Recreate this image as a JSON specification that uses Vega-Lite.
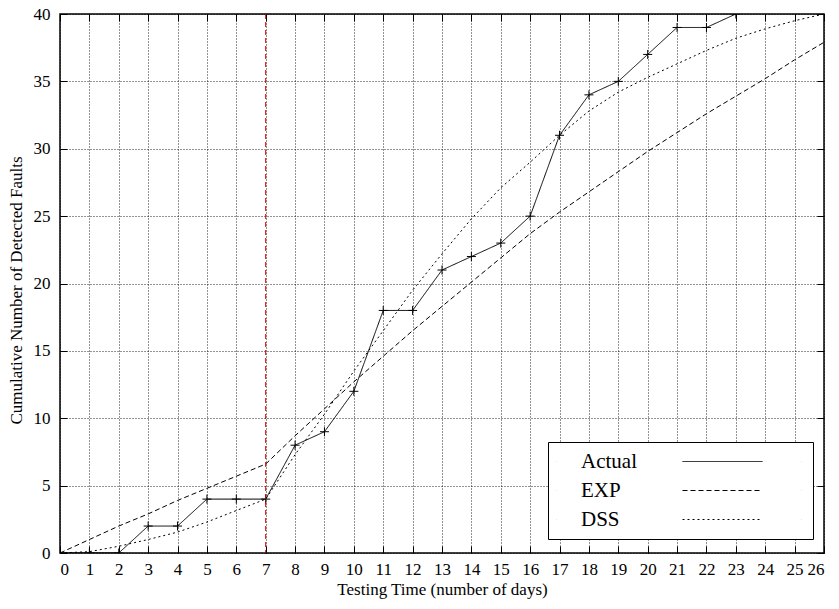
{
  "$schema": "https://vega.github.io/schema/vega-lite/v6.json",
  "width": 764,
  "height": 539,
  "autosize": {"type": "none"},
  "padding": {"left": 60, "top": 14, "right": 15, "bottom": 56},
  "background": "white",
  "config": {
    "font": "Liberation Serif",
    "view": {"stroke": "#000", "strokeWidth": 1.5},
    "axis": {
      "domain": false,
      "grid": true,
      "gridColor": "#000",
      "gridDash": [1, 2],
      "gridWidth": 1,
      "gridOpacity": 0.85,
      "ticks": true,
      "tickColor": "#000",
      "tickSize": -7,
      "tickWidth": 1,
      "labelFont": "Liberation Serif",
      "labelFontSize": 17,
      "labelColor": "#000",
      "titleFont": "Liberation Serif",
      "titleFontSize": 17,
      "titleFontWeight": "normal",
      "titleColor": "#000"
    }
  },
  "datasets": {
    "curves": [
      {"day": 0, "series": "Actual", "value": 0},
      {"day": 1, "series": "Actual", "value": 0},
      {"day": 2, "series": "Actual", "value": 0},
      {"day": 3, "series": "Actual", "value": 2},
      {"day": 4, "series": "Actual", "value": 2},
      {"day": 5, "series": "Actual", "value": 4},
      {"day": 6, "series": "Actual", "value": 4},
      {"day": 7, "series": "Actual", "value": 4},
      {"day": 8, "series": "Actual", "value": 8},
      {"day": 9, "series": "Actual", "value": 9},
      {"day": 10, "series": "Actual", "value": 12},
      {"day": 11, "series": "Actual", "value": 18},
      {"day": 12, "series": "Actual", "value": 18},
      {"day": 13, "series": "Actual", "value": 21},
      {"day": 14, "series": "Actual", "value": 22},
      {"day": 15, "series": "Actual", "value": 23},
      {"day": 16, "series": "Actual", "value": 25},
      {"day": 17, "series": "Actual", "value": 31},
      {"day": 18, "series": "Actual", "value": 34},
      {"day": 19, "series": "Actual", "value": 35},
      {"day": 20, "series": "Actual", "value": 37},
      {"day": 21, "series": "Actual", "value": 39},
      {"day": 22, "series": "Actual", "value": 39},
      {"day": 23, "series": "Actual", "value": 40},
      {"day": 0, "series": "EXP", "value": 0},
      {"day": 1, "series": "EXP", "value": 1.0},
      {"day": 2, "series": "EXP", "value": 2.0},
      {"day": 3, "series": "EXP", "value": 2.9},
      {"day": 4, "series": "EXP", "value": 3.9},
      {"day": 5, "series": "EXP", "value": 4.8},
      {"day": 6, "series": "EXP", "value": 5.7},
      {"day": 7, "series": "EXP", "value": 6.6},
      {"day": 8, "series": "EXP", "value": 8.7},
      {"day": 9, "series": "EXP", "value": 10.7},
      {"day": 10, "series": "EXP", "value": 12.7},
      {"day": 11, "series": "EXP", "value": 14.6},
      {"day": 12, "series": "EXP", "value": 16.5},
      {"day": 13, "series": "EXP", "value": 18.3},
      {"day": 14, "series": "EXP", "value": 20.1},
      {"day": 15, "series": "EXP", "value": 21.9},
      {"day": 16, "series": "EXP", "value": 23.7},
      {"day": 17, "series": "EXP", "value": 25.3},
      {"day": 18, "series": "EXP", "value": 26.8},
      {"day": 19, "series": "EXP", "value": 28.3},
      {"day": 20, "series": "EXP", "value": 29.8},
      {"day": 21, "series": "EXP", "value": 31.2},
      {"day": 22, "series": "EXP", "value": 32.6},
      {"day": 23, "series": "EXP", "value": 33.9},
      {"day": 24, "series": "EXP", "value": 35.2},
      {"day": 25, "series": "EXP", "value": 36.6},
      {"day": 26, "series": "EXP", "value": 37.9},
      {"day": 0, "series": "DSS", "value": 0},
      {"day": 1, "series": "DSS", "value": 0.1},
      {"day": 2, "series": "DSS", "value": 0.5},
      {"day": 3, "series": "DSS", "value": 1.0},
      {"day": 4, "series": "DSS", "value": 1.55},
      {"day": 5, "series": "DSS", "value": 2.3},
      {"day": 6, "series": "DSS", "value": 3.15},
      {"day": 7, "series": "DSS", "value": 4.0},
      {"day": 8, "series": "DSS", "value": 7.3},
      {"day": 9, "series": "DSS", "value": 10.3},
      {"day": 10, "series": "DSS", "value": 13.5},
      {"day": 11, "series": "DSS", "value": 16.5},
      {"day": 12, "series": "DSS", "value": 19.5},
      {"day": 13, "series": "DSS", "value": 22.2},
      {"day": 14, "series": "DSS", "value": 24.8},
      {"day": 15, "series": "DSS", "value": 27.1},
      {"day": 16, "series": "DSS", "value": 29.0},
      {"day": 17, "series": "DSS", "value": 31.0},
      {"day": 18, "series": "DSS", "value": 32.8},
      {"day": 19, "series": "DSS", "value": 34.2},
      {"day": 20, "series": "DSS", "value": 35.3},
      {"day": 21, "series": "DSS", "value": 36.3},
      {"day": 22, "series": "DSS", "value": 37.3},
      {"day": 23, "series": "DSS", "value": 38.2},
      {"day": 24, "series": "DSS", "value": 38.9},
      {"day": 25, "series": "DSS", "value": 39.5},
      {"day": 26, "series": "DSS", "value": 40.0}
    ],
    "split": [{"day": 7}]
  },
  "resolve": {"axis": {"x": "independent", "y": "independent"}},
  "layer": [
    {
      "data": {"name": "curves"},
      "mark": {"type": "line", "color": "#000", "strokeWidth": 1, "clip": true},
      "encoding": {
        "x": {
          "field": "day", "type": "quantitative",
          "scale": {"domain": [0, 26], "nice": false, "zero": false},
          "axis": {
            "orient": "bottom",
            "values": [0,1,2,3,4,5,6,7,8,9,10,11,12,13,14,15,16,17,18,19,20,21,22,23,24,25,26],
            "title": "Testing Time (number of days)",
            "labelPadding": 15,
            "titlePadding": 4
          }
        },
        "y": {
          "field": "value", "type": "quantitative",
          "scale": {"domain": [0, 40], "nice": false},
          "axis": {
            "orient": "left",
            "values": [0, 5, 10, 15, 20, 25, 30, 35, 40],
            "title": "Cumulative Number of Detected Faults",
            "labelPadding": 17,
            "titlePadding": 8,
            "titleY": 276
          }
        },
        "strokeDash": {
          "field": "series", "type": "nominal",
          "scale": {"domain": ["Actual", "EXP", "DSS"], "range": [[1, 0], [5, 3], [2, 3]]},
          "legend": {
            "orient": "none",
            "legendX": 488,
            "legendY": 428,
            "title": null,
            "direction": "vertical",
            "symbolType": "M-16.6,0h0.01M-4,0H4M7.9,0h0.01",
            "symbolSize": 400,
            "symbolStrokeColor": "#000",
            "symbolStrokeWidth": 1,
            "symbolOffset": 155,
            "labelOffset": -152,
            "labelFont": "Liberation Serif",
            "labelFontSize": 21,
            "labelColor": "#000",
            "rowPadding": 7,
            "padding": 9,
            "strokeColor": "#000",
            "fillColor": "white"
          }
        }
      }
    },
    {
      "data": {"name": "curves"},
      "transform": [{"filter": "datum.series === 'Actual'"}],
      "mark": {"type": "point", "shape": "M-1,0H1M0,-1V1", "size": 81, "filled": false, "stroke": "#000", "strokeWidth": 1, "opacity": 1, "clip": true},
      "encoding": {
        "x": {
          "field": "day", "type": "quantitative",
          "axis": {
            "orient": "top", "labels": false, "title": null, "grid": false,
            "values": [0,1,2,3,4,5,6,7,8,9,10,11,12,13,14,15,16,17,18,19,20,21,22,23,24,25,26]
          }
        },
        "y": {
          "field": "value", "type": "quantitative",
          "axis": {
            "orient": "right", "labels": false, "title": null, "grid": false,
            "values": [0, 5, 10, 15, 20, 25, 30, 35, 40]
          }
        }
      }
    },
    {
      "data": {"name": "split"},
      "mark": {"type": "rule", "color": "#cc0000", "strokeWidth": 1, "strokeDash": [5, 3]},
      "encoding": {
        "x": {"field": "day", "type": "quantitative", "axis": null}
      }
    }
  ]
}
